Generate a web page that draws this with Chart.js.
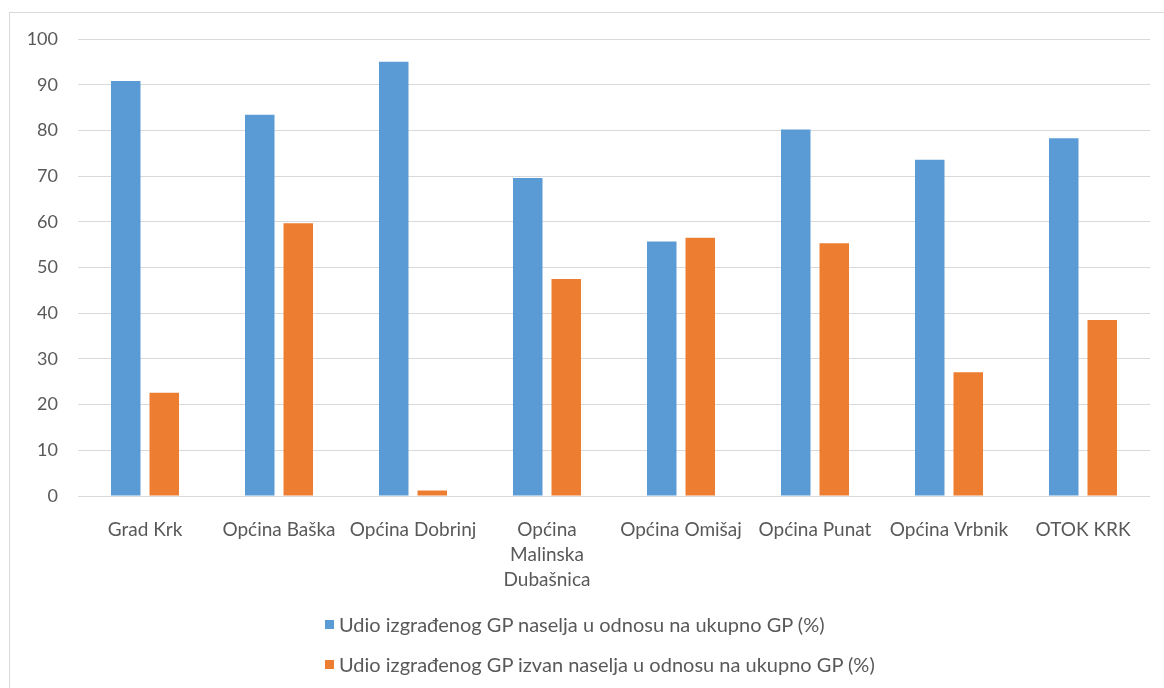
<!DOCTYPE html>
<html>
<head>
<meta charset="utf-8">
<script src="https://cdn.jsdelivr.net/npm/chart.js@4.4.1/dist/chart.umd.min.js"></script>
<style>
    body { margin: 0; background: #fff; }
    #wrap { position: relative; width: 1164px; height: 688px; overflow: hidden; }
    #frame { position: absolute; left: 9px; top: 12px; width: 1200px; height: 720px; border: 1px solid #d9d9d9; box-sizing: border-box; }
    #chartCanvas { position: absolute; left: 0; top: 0; }
    #legendBox { position: absolute; left: 325px; top: 604px; font-family: Lato, sans-serif; font-size: 20px; color: #595959; }
    .legItem { height: 40px; display: flex; align-items: center; white-space: nowrap; }
    .legItem span.box { width: 9px; height: 9px; margin-right: 5px; display: inline-block; }
</style>
</head>
<body>
<div id="wrap">
    <div id="frame"></div>
    <canvas id="chartCanvas" width="1164" height="688"></canvas>
    <div id="legendBox"></div>
</div>
<script>
// Categories (x axis)
const categories = [
    "Grad Krk",
    "Općina Baška",
    "Općina Dobrinj",
    ["Općina", "Malinska", "Dubašnica"],
    "Općina Omišaj",
    "Općina Punat",
    "Općina Vrbnik",
    "OTOK KRK"
];

// Series names
const seriesNames = [
    "Udio izgrađenog GP naselja u odnosu na ukupno GP (%)",
    "Udio izgrađenog GP izvan naselja u odnosu na ukupno GP (%)"
];

// Series values
const insideValues = [90.8, 83.4, 95.0, 69.6, 55.7, 80.2, 73.6, 78.3];
const outsideValues = [22.6, 59.7, 1.2, 47.5, 56.5, 55.3, 27.1, 38.5];

// Y ticks
const yMin = 0;
const yMax = 100;
const yStep = 10;

const seriesColors = ["#5b9bd5", "#ed7d31"];
const textColor = "#595959";
const gridColor = "#d9d9d9";

const ctx = document.getElementById("chartCanvas");

const chart = new Chart(ctx, {
    type: "bar",
    data: {
        labels: categories,
        datasets: [
            {
                label: seriesNames[0],
                data: insideValues,
                backgroundColor: seriesColors[0]
            },
            {
                label: seriesNames[1],
                data: outsideValues,
                backgroundColor: seriesColors[1]
            }
        ]
    },
    options: {
        responsive: false,
        animation: false,
        layout: {
            padding: { left: 0, right: 14, top: 39, bottom: 0 }
        },
        datasets: {
            bar: {
                categoryPercentage: 0.575,
                barPercentage: 0.766
            }
        },
        scales: {
            x: {
                grid: { display: false },
                border: { display: false },
                ticks: {
                    color: textColor,
                    font: { family: "Lato", size: 19, lineHeight: 1.3 },
                    padding: 14,
                    maxRotation: 0,
                    autoSkip: false
                },
                afterFit: (scale) => { scale.height = 192; }
            },
            y: {
                min: yMin,
                max: yMax,
                grid: { color: gridColor, lineWidth: 1, drawTicks: false },
                border: { display: false },
                ticks: {
                    stepSize: yStep,
                    color: textColor,
                    font: { family: "Lato", size: 18 },
                    padding: 20
                },
                afterFit: (scale) => { scale.width = 78; }
            }
        },
        plugins: {
            legend: { display: false },
            tooltip: { enabled: false }
        }
    }
});

// Build legend from datasets
const legendBox = document.getElementById("legendBox");
chart.data.datasets.forEach((ds) => {
    const item = document.createElement("div");
    item.className = "legItem";
    const box = document.createElement("span");
    box.className = "box";
    box.style.background = ds.backgroundColor;
    item.appendChild(box);
    const txt = document.createElement("span");
    txt.textContent = ds.label;
    item.appendChild(txt);
    legendBox.appendChild(item);
});
</script>
</body>
</html>
